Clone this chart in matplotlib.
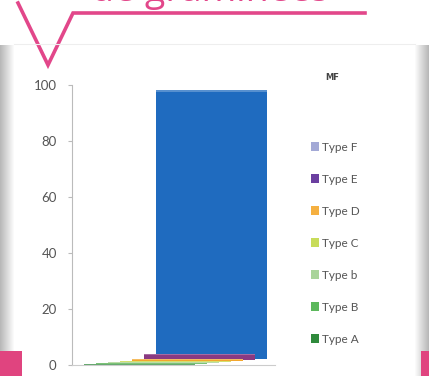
import matplotlib
matplotlib.use("Agg")
import matplotlib.pyplot as plt
from matplotlib.patches import Patch, Rectangle

# Séries (de l'avant vers l'arrière)
series = ["Type A", "Type B", "Type b", "Type C", "Type D", "Type E", "Type F"]
values = [0.3, 0.3, 0.3, 0.5, 0.8, 2.2, 96.0]
bar_colors = ["#2f8a3c", "#4fae4a", "#a6cf8c", "#c6d640", "#f2a72e", "#8a3a82", "#1f6bbf"]
legend_colors = ["#2f8a3c", "#5cb85c", "#a9d49a", "#c8dc5a", "#f5b041", "#6b3fa0", "#a3a9d6"]
y_ticks = [0, 20, 40, 60, 80, 100]

W, H = 429, 376
fig = plt.figure(figsize=(W / 100, H / 100), dpi=100)
fig.patch.set_facecolor("white")

# Décor de la diapositive
bg = fig.add_axes([0, 0, 1, 1], zorder=0)
bg.set_xlim(0, W)
bg.set_ylim(H, 0)
bg.axis("off")
pink = "#e2478a"
bg.plot([18, 48, 73, 365], [3, 65, 13, 13], color=pink, lw=2.6, solid_joinstyle="miter")
bg.text(210, 1, "de graminées", color=pink, fontsize=27, ha="center", va="baseline",
        family="Open Sans")
for i in range(14):
    g = 0.72 + 0.02 * i
    bg.add_patch(Rectangle((i, 45), 1, H - 45, color=(g, g, g), lw=0))
    bg.add_patch(Rectangle((W - 1 - i, 45), 1, H - 45, color=(g, g, g), lw=0))
bg.plot([14, 415], [44, 44], color="#eeeeee", lw=0.8)
bg.add_patch(Rectangle((0, 351), 22, 25, color="#e0447f", lw=0))
bg.add_patch(Rectangle((421, 351), 8, 25, color="#e0447f", lw=0))

# Graphique
ax = fig.add_axes([72 / W, 11 / H, 203 / W, 280 / H], zorder=1)
ax.patch.set_alpha(0)
ax.set_xlim(0, 203)
ax.set_ylim(0, 100)

step, width, lift = 12, 111, 0.35
for i in reversed(range(len(series))):
    left = 12 + i * step
    bottom = i * lift
    ax.bar(left, values[i], width=width, bottom=bottom, align="edge",
           color=bar_colors[i], edgecolor="none")
    # face supérieure plus claire
    ax.bar(left, 0.5, width=width, bottom=bottom + values[i] - 0.5, align="edge",
           color="white", alpha=0.25, edgecolor="none")

ax.set_yticks(y_ticks)
ax.set_yticklabels([str(v) for v in y_ticks], fontsize=9.5, color="#555555", family="Lato")
ax.set_xticks([])
for s in ["top", "right"]:
    ax.spines[s].set_visible(False)
ax.spines["left"].set_color("#bbbbbb")
ax.spines["bottom"].set_color("#cccccc")
ax.tick_params(axis="y", length=3, color="#bbbbbb", pad=8)

# Légende
fig.text(332 / W, 1 - 77 / H, "MF", fontsize=6, fontweight="bold", color="#444444",
         ha="center", va="center")
handles = [Patch(facecolor=c, edgecolor="none") for c in legend_colors[::-1]]
fig.legend(handles, series[::-1], loc="upper left", bbox_to_anchor=(300 / W, 1 - 131 / H),
           frameon=False, labelspacing=1.78, handlelength=0.7,
           handleheight=0.7, handletextpad=0.3, labelcolor="#555555",
           prop={"family": "Lato", "size": 8.5})

fig.savefig("out.png", dpi=100)
